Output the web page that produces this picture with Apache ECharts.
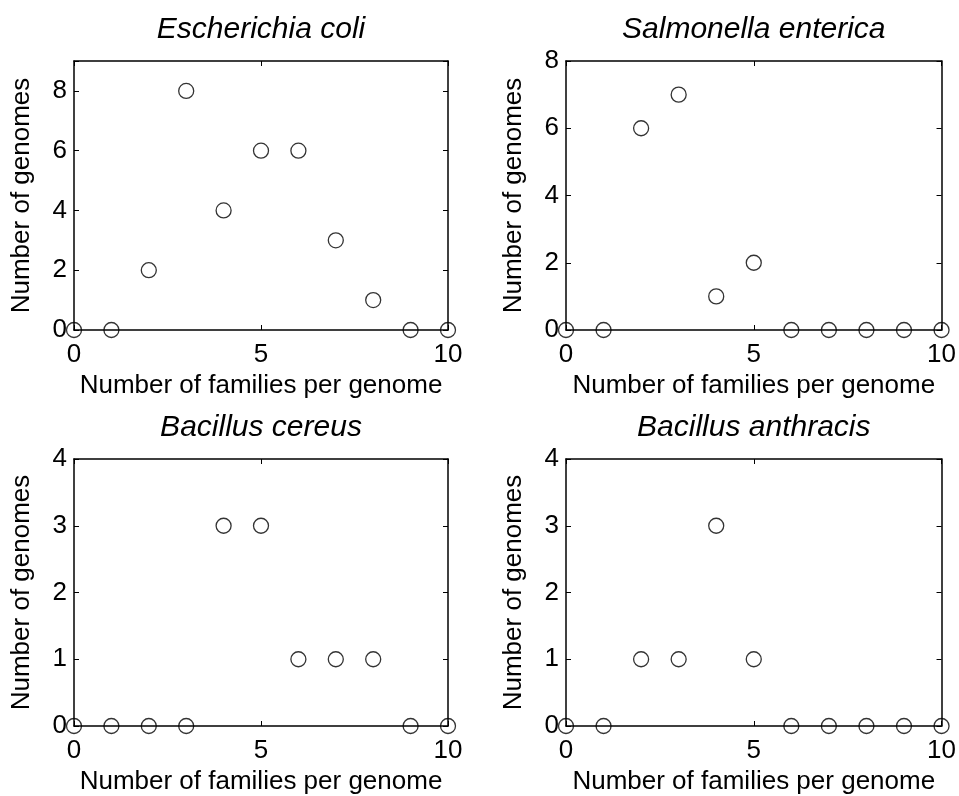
<!DOCTYPE html>
<html>
<head>
<meta charset="utf-8">
<script src="https://cdn.jsdelivr.net/npm/echarts@6/dist/echarts.min.js"></script>
<style>
  html, body { margin: 0; padding: 0; background: #fff; }
  #chart { width: 959px; height: 796px; }
</style>
</head>
<body>
<div id="chart"></div>
<script>
// Histogram-style counts: how many genomes carry N families, per species
const familiesPerGenome = [0, 1, 2, 3, 4, 5, 6, 7, 8, 9, 10];
const speciesNames = ['Escherichia coli', 'Salmonella enterica', 'Bacillus cereus', 'Bacillus anthracis'];
const ecoliCounts      = [0, 0, 2, 8, 4, 6, 6, 3, 1, 0, 0];
const salmonellaCounts = [0, 0, 6, 7, 1, 2, 0, 0, 0, 0, 0];
const cereusCounts     = [0, 0, 0, 0, 3, 3, 1, 1, 1, 0, 0];
const anthracisCounts  = [0, 0, 1, 1, 3, 1, 0, 0, 0, 0, 0];

const xTicks = [0, 5, 10];
const yTicksEcoli = [0, 2, 4, 6, 8];
const yTicksSalmonella = [0, 2, 4, 6, 8];
const yTicksBacillus = [0, 1, 2, 3, 4];
const yLimits = [9, 8, 4, 4];

const xLabel = 'Number of families per genome';
const yLabel = 'Number of genomes';

const panels = [
  { counts: ecoliCounts,      yTicks: yTicksEcoli,      grid: { left: 74,  top: 61,  width: 374, height: 269 } },
  { counts: salmonellaCounts, yTicks: yTicksSalmonella, grid: { left: 566, top: 61,  width: 376, height: 269 } },
  { counts: cereusCounts,     yTicks: yTicksBacillus,   grid: { left: 74,  top: 459, width: 374, height: 269 } },
  { counts: anthracisCounts,  yTicks: yTicksBacillus,   grid: { left: 566, top: 459, width: 376, height: 269 } }
];

const FONT = '"Liberation Sans", Arial, Helvetica, sans-serif';
const lineStyle = { color: '#000', width: 1.5 };
const tickStyle = { show: true, inside: true, length: 5, lineStyle: { color: '#000', width: 1 } };

const grids = [], xAxes = [], yAxes = [], series = [];

panels.forEach((p, i) => {
  grids.push(Object.assign({ containLabel: false }, p.grid));
  const xStep = xTicks[1] - xTicks[0];
  const yStep = p.yTicks[1] - p.yTicks[0];
  const yMax = yLimits[i];
  const onlyTicks = list => v => (list.indexOf(v) >= 0 ? String(v) : '');

  // bottom x axis with labels
  xAxes.push({
    gridIndex: i, type: 'value', position: 'bottom',
    min: xTicks[0], max: xTicks[xTicks.length - 1], interval: xStep,
    axisLine: { show: true, onZero: false, lineStyle },
    axisTick: tickStyle, splitLine: { show: false },
    axisLabel: { color: '#000', fontSize: 26, fontFamily: FONT, margin: 12, formatter: onlyTicks(xTicks) },
    name: xLabel, nameLocation: 'middle', nameGap: 43,
    nameTextStyle: { color: '#000', fontSize: 26, fontFamily: FONT }
  });
  // top x axis: frame edge with mirrored ticks, carries the panel title
  xAxes.push({
    gridIndex: i, type: 'value', position: 'top',
    min: xTicks[0], max: xTicks[xTicks.length - 1], interval: xStep,
    axisLine: { show: true, onZero: false, lineStyle },
    axisTick: tickStyle, splitLine: { show: false }, axisLabel: { show: false },
    name: speciesNames[i], nameLocation: 'middle', nameGap: 16,
    nameTextStyle: { color: '#000', fontSize: 30, fontStyle: 'italic', fontFamily: FONT }
  });
  // left y axis with labels
  yAxes.push({
    gridIndex: i, type: 'value', position: 'left',
    min: 0, max: yMax, interval: yStep,
    axisLine: { show: true, onZero: false, lineStyle },
    axisTick: tickStyle, splitLine: { show: false },
    axisLabel: { color: '#000', fontSize: 26, fontFamily: FONT, margin: 7, formatter: onlyTicks(p.yTicks) },
    name: yLabel, nameLocation: 'middle', nameGap: 39,
    nameTextStyle: { color: '#000', fontSize: 26, fontFamily: FONT }
  });
  // right y axis: frame edge with mirrored ticks
  yAxes.push({
    gridIndex: i, type: 'value', position: 'right',
    min: 0, max: yMax, interval: yStep,
    axisLine: { show: true, onZero: false, lineStyle },
    axisTick: tickStyle, splitLine: { show: false }, axisLabel: { show: false }
  });

  series.push({
    type: 'scatter',
    xAxisIndex: i * 2, yAxisIndex: i * 2,
    data: familiesPerGenome.map((x, k) => [x, p.counts[k]]),
    symbol: 'circle', symbolSize: 15,
    itemStyle: { color: 'rgba(0,0,0,0)', borderColor: '#000', borderWidth: 1.3 },
    clip: false, silent: true, z: 5
  });
});

const chart = echarts.init(document.getElementById('chart'), null, { renderer: 'canvas' });
chart.setOption({
  animation: false,
  backgroundColor: '#fff',
  textStyle: { fontFamily: FONT },
  grid: grids, xAxis: xAxes, yAxis: yAxes, series
});
</script>
</body>
</html>
